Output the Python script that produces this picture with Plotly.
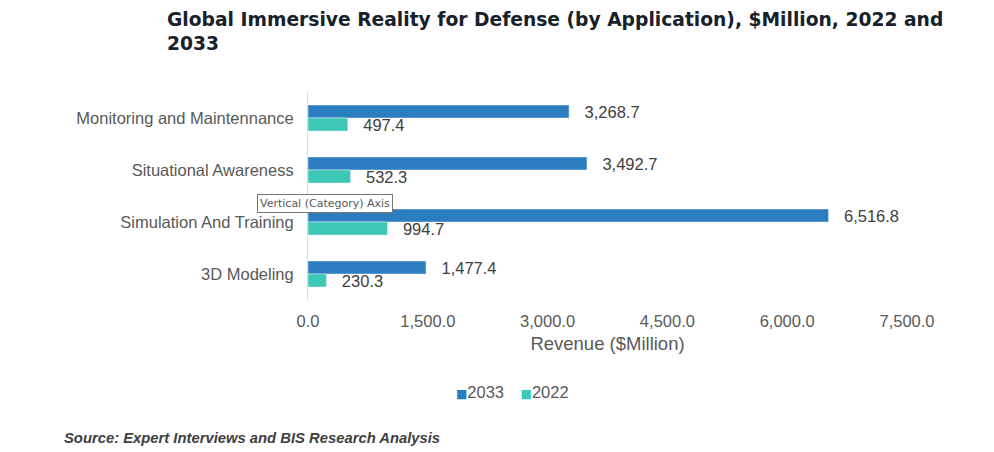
import plotly.graph_objects as go

categories = ["Monitoring and Maintennance", "Situational Awareness", "Simulation And Training", "3D Modeling"]
series_names = ["2033", "2022"]
values_2033 = [3268.7, 3492.7, 6516.8, 1477.4]
values_2022 = [497.4, 532.3, 994.7, 230.3]
x_ticks = [0, 1500, 3000, 4500, 6000, 7500]
x_tick_labels = ["0.0", "1,500.0", "3,000.0", "4,500.0", "6,000.0", "7,500.0"]

FONT = "Arial, Liberation Sans, sans-serif"
COLORS = ["#2B7DC0", "#3CC8B5"]
PAD = "\u00a0\u00a0\u2009"

fig = go.Figure()
for name, vals, col in zip(series_names, [values_2033, values_2022], COLORS):
    fig.add_trace(go.Bar(
        y=categories, x=vals, name=name, orientation="h",
        marker=dict(color=col), showlegend=False,
        text=[PAD + f"{v:,.1f}" for v in vals], textposition="outside",
        textfont=dict(size=16.5, color="#404040", family=FONT),
        constraintext="none", cliponaxis=False, hoverinfo="skip",
    ))

legend_text = "\u2003".join(
    f"<span style='color:{c};font-size:12px;font-family:DejaVu Sans'>\u25A0</span>{n}"
    for n, c in zip(series_names, COLORS)
)

fig.update_layout(
    width=994, height=452,
    margin=dict(l=308, r=87, t=92, b=152),
    paper_bgcolor="white", plot_bgcolor="white",
    barmode="group", bargap=0.5, bargroupgap=0,
    font=dict(family=FONT, color="#404040"),
    title=dict(
        text="<b>Global Immersive Reality for Defense (by Application), $Million, 2022 and<br>2033</b>",
        x=167/994, xanchor="left", xref="container",
        y=1 - 26/452, yanchor="top", yref="container",
        font=dict(size=18.7, color="#17212B", family="DejaVu Sans, sans-serif"),
    ),
    xaxis=dict(
        range=[0, 7500], tickvals=x_ticks, ticktext=x_tick_labels,
        showgrid=False, zeroline=False, showline=False,
        tickfont=dict(size=16.5, color="#595959"),
        ticks="outside", ticklen=6, tickcolor="rgba(0,0,0,0)",
        title=dict(text="Revenue ($Million)", font=dict(size=18.5, color="#595959"), standoff=8),
    ),
    yaxis=dict(
        autorange="reversed",
        showgrid=False, zeroline=False, showline=True, linecolor="#D9D9D9", linewidth=1,
        tickfont=dict(size=16.5, color="#595959"),
        ticks="outside", ticklen=10, tickcolor="rgba(0,0,0,0)",
    ),
    annotations=[
        dict(text=legend_text,
             xref="paper", yref="paper", x=(512-308)/599, y=(300-392)/208,
             xanchor="center", yanchor="middle", showarrow=False,
             font=dict(size=16.5, color="#595959", family=FONT)),
        dict(text="<b><i>Source: Expert Interviews and BIS Research Analysis</i></b>",
             xref="paper", yref="paper", x=(62-308)/599, y=(300-438)/208,
             xanchor="left", yanchor="middle", showarrow=False,
             font=dict(size=14.8, color="#404040", family=FONT)),
        dict(text="Vertical (Category) Axis",
             xref="paper", yref="paper", x=(257-308)/599, y=(300-203)/208,
             xanchor="left", yanchor="middle", showarrow=False,
             bgcolor="white", bordercolor="#767676", borderwidth=1, borderpad=2,
             font=dict(size=11, color="#575757", family="DejaVu Sans, sans-serif")),
    ],
)

fig.write_html(
    "out.html",
    config={"displayModeBar": False},
    post_script="document.body.style.margin='0';document.body.style.overflow='hidden';",
)
